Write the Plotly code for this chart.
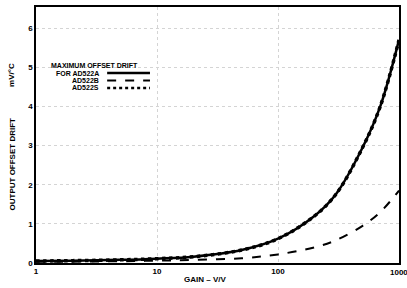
import plotly.graph_objects as go

gain = [1, 2, 5, 10, 20, 50, 100, 200, 300, 500, 700, 1000]
drift_a = [0.05, 0.06, 0.08, 0.11, 0.16, 0.33, 0.62, 1.2, 1.75, 2.95, 4.0, 5.7]
drift_s = drift_a
drift_b = [0.03, 0.035, 0.045, 0.06, 0.08, 0.12, 0.22, 0.4, 0.58, 0.95, 1.3, 1.85]

x_ticks = [1, 10, 100, 1000]
x_labels = ["1", "10", "100", "1000"]
y_ticks = [0, 1, 2, 3, 4, 5, 6]

FONT = "Liberation Sans"
TF = dict(family=FONT, size=8, color="black")
LF = dict(family=FONT, size=7, color="black")

fig = go.Figure()
fig.add_trace(go.Scatter(x=gain, y=drift_b, mode="lines", name="AD522B",
                         line=dict(color="black", width=2, dash="dash", shape="spline")))
fig.add_trace(go.Scatter(x=gain, y=drift_a, mode="lines", name="AD522A",
                         line=dict(color="black", width=2.5, shape="spline")))
fig.add_trace(go.Scatter(x=gain, y=drift_s, mode="lines", name="AD522S",
                         line=dict(color="black", width=3.5, dash="dot", shape="spline")))

# legend built as text + sample lines
leg_items = [("FOR AD522A", "solid", 2.5), ("AD522B", "dash", 2), ("AD522S", "dot", 2.5)]
fig.add_annotation(xref="paper", yref="paper", x=0.037, y=0.771, text="<b>MAXIMUM OFFSET DRIFT</b>",
                   showarrow=False, xanchor="left", yanchor="middle", font=LF)
for i, (lab, dsh, w) in enumerate(leg_items):
    yy = 0.742 - i * 0.029
    fig.add_annotation(xref="paper", yref="paper", x=0.18, y=yy, text="<b>%s</b>" % lab,
                       showarrow=False, xanchor="right", yanchor="middle", font=LF)
    fig.add_shape(type="line", xref="paper", yref="paper", x0=0.196, x1=0.314, y0=yy, y1=yy,
                  line=dict(color="black", width=w, dash=dsh))

# axis titles as annotations
fig.add_annotation(xref="paper", yref="paper", x=-0.066, y=0.385, text="<b>OUTPUT OFFSET DRIFT</b>",
                   showarrow=False, textangle=-90, xanchor="center", yanchor="middle", font=TF)
fig.add_annotation(xref="paper", yref="paper", x=-0.066, y=0.735, text="<b>mV/°C</b>",
                   showarrow=False, textangle=-90, xanchor="center", yanchor="middle", font=TF)
fig.add_annotation(xref="paper", yref="paper", x=0.466, y=-0.066, text="<b>GAIN – V/V</b>",
                   showarrow=False, xanchor="center", yanchor="middle", font=TF)
# last x tick label, clipped at the edge as in the original
fig.add_annotation(xref="x", yref="paper", x=3, y=-0.012, text="<b>%s</b>" % x_labels[-1],
                   showarrow=False, xanchor="center", yanchor="top", font=TF)

fig.update_xaxes(type="log", range=[0, 3], tickvals=x_ticks, ticktext=["<b>%s</b>" % t for t in x_labels],
                 showgrid=True, gridcolor="#d4d4d4", griddash="dot", gridwidth=1,
                 showline=True, linecolor="black", linewidth=1.5, mirror=True,
                 ticks="", tickfont=TF, automargin=False, zeroline=False)
fig.update_yaxes(range=[0, 6.54], tickvals=y_ticks, ticktext=["<b>%d</b>" % t for t in y_ticks],
                 showgrid=True, gridcolor="#d4d4d4", griddash="dot", gridwidth=1,
                 showline=True, linecolor="black", linewidth=1.5, mirror=True,
                 ticks="", tickfont=TF, automargin=False, zeroline=False)

fig.update_layout(width=407, height=288, margin=dict(l=36, r=8, t=7, b=25, autoexpand=False),
                  plot_bgcolor="white", paper_bgcolor="white", showlegend=False)

fig.write_html("out.html", config={"displayModeBar": False},
               post_script="document.body.style.margin='0';document.body.style.overflow='hidden';")
